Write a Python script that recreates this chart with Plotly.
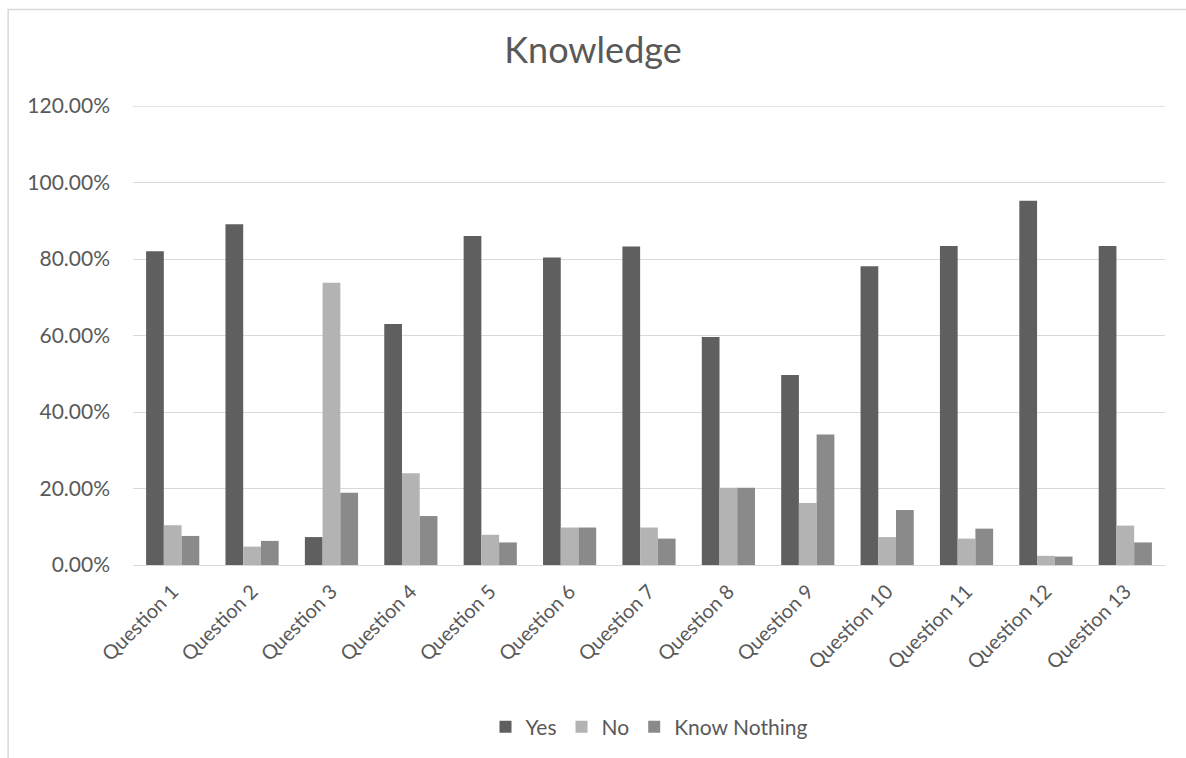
import plotly.graph_objects as go

categories = [f"Question {i}" for i in range(1, 14)]
yes = [0.820, 0.891, 0.073, 0.630, 0.860, 0.804, 0.833, 0.596, 0.497, 0.781, 0.834, 0.952, 0.834]
no = [0.104, 0.048, 0.738, 0.240, 0.079, 0.098, 0.098, 0.202, 0.162, 0.073, 0.069, 0.024, 0.103]
know_nothing = [0.076, 0.063, 0.189, 0.128, 0.059, 0.098, 0.069, 0.202, 0.341, 0.144, 0.095, 0.022, 0.059]
y_ticks = [0, 0.2, 0.4, 0.6, 0.8, 1.0, 1.2]

FONT = "Lato, 'Open Sans', sans-serif"
TXT = "#595959"
GRID = "#d9d9d9"

fig = go.Figure()
for name, vals, col in [("Yes", yes, "#5f5f5f"), ("No", no, "#b3b3b3"), ("Know Nothing", know_nothing, "#8a8a8a")]:
    fig.add_trace(go.Bar(x=categories, y=vals, name=name, marker=dict(color=col, line=dict(width=0))))

fig.update_layout(
    width=1186, height=758,
    margin=dict(l=133, r=21, t=106, b=192),
    paper_bgcolor="white", plot_bgcolor="white",
    barmode="group", bargap=0.33, bargroupgap=0,
    title=dict(text="Knowledge", x=0.5, xanchor="center", y=0.933, yanchor="middle",
               font=dict(family=FONT, size=36, color=TXT)),
    font=dict(family=FONT, color=TXT, size=20),
    legend=dict(orientation="h", x=0.5, xanchor="center", y=-0.35, yanchor="middle",
                font=dict(size=21, color=TXT), traceorder="normal", itemwidth=30),
    yaxis=dict(range=[0, 1.2], tickvals=y_ticks, tickformat=".2%",
               showgrid=True, gridcolor=GRID,
               gridwidth=1, zeroline=False, showline=False, ticks="", ticklabelstandoff=22,
               tickfont=dict(size=21, color=TXT), fixedrange=True),
    xaxis=dict(tickangle=-45, showline=True, linecolor=GRID, linewidth=1, ticks="",
               ticklabelstandoff=6,
               tickfont=dict(size=20, color=TXT), fixedrange=True),
    shapes=[
        dict(type="rect", xref="paper", yref="paper", x0=-0.121, x1=1.05, y0=-0.6, y1=1.21,
             line=dict(color=GRID, width=1.5), fillcolor="rgba(0,0,0,0)", layer="below"),
        dict(type="line", xref="paper", yref="y", x0=0, x1=1, y0=y_ticks[-1], y1=y_ticks[-1],
             line=dict(color=GRID, width=1.5), layer="below"),
    ],
)

fig.write_html("out.html")
